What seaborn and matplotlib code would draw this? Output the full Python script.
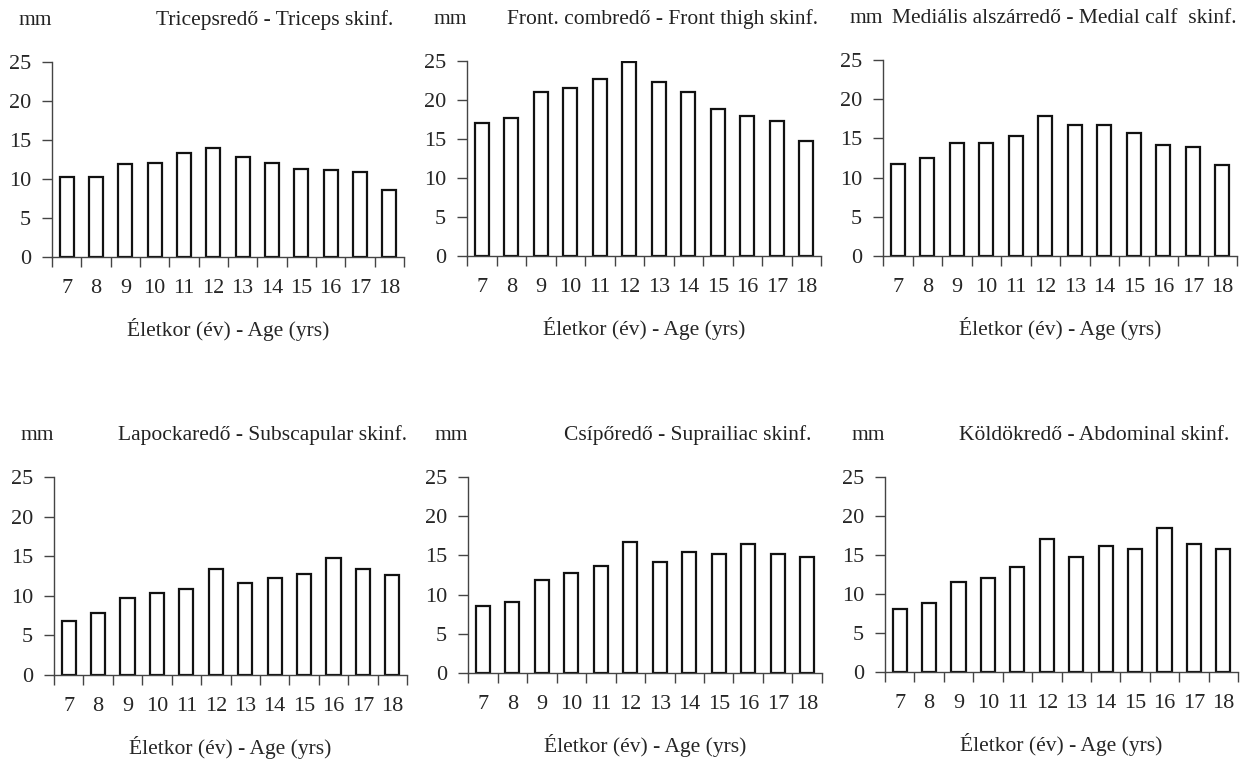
import matplotlib
matplotlib.use("Agg")
import matplotlib.pyplot as plt
import numpy as np
import pandas as pd
import seaborn as sns

ages = [7, 8, 9, 10, 11, 12, 13, 14, 15, 16, 17, 18]

triceps = [10.3, 10.3, 11.9, 12.1, 13.3, 14.0, 12.8, 12.0, 11.3, 11.1, 10.9, 8.6]
front_thigh = [17.0, 17.7, 21.0, 21.5, 22.7, 24.9, 22.3, 21.0, 18.9, 18.0, 17.3, 14.8]
medial_calf = [11.7, 12.5, 14.4, 14.4, 15.3, 17.8, 16.7, 16.7, 15.7, 14.1, 13.9, 11.6]
subscapular = [6.8, 7.8, 9.7, 10.4, 10.9, 13.4, 11.6, 12.3, 12.8, 14.8, 13.4, 12.6]
suprailiac = [8.5, 9.1, 11.8, 12.7, 13.6, 16.7, 14.2, 15.4, 15.2, 16.5, 15.2, 14.8]
abdominal = [8.1, 8.9, 11.6, 12.1, 13.4, 17.0, 14.8, 16.2, 15.8, 18.5, 16.4, 15.8]

titles = [
    "Tricepsredő - Triceps skinf.",
    "Front. combredő - Front thigh skinf.",
    "Mediális alszárredő - Medial calf  skinf.",
    "Lapockaredő - Subscapular skinf.",
    "Csípőredő - Suprailiac skinf.",
    "Köldökredő - Abdominal skinf.",
]
series = [triceps, front_thigh, medial_calf, subscapular, suprailiac, abdominal]

xlabel = "Életkor (év) - Age (yrs)"
ylabel = "mm"

sns.set_style("ticks")
plt.rcParams["font.family"] = ["Liberation Serif", "DejaVu Serif"]
plt.rcParams["text.color"] = "#222222"

W, H = 1245, 763
fig = plt.figure(figsize=(W / 100, H / 100), dpi=100)

# axes boxes in pixels: left, top(value 25), right, bottom(value 0)
boxes = [
    (52, 62, 404, 257),
    (467, 61, 821, 256),
    (883, 60, 1237, 256),
    (54, 477, 407, 675),
    (468, 477, 822, 673),
    (885, 477, 1238, 672),
]
title_shift = [-8, -2, 0, 0, -8, -6]

for (l, t, r, b), title, vals, dx in zip(boxes, titles, series, title_shift):
    ax = fig.add_axes([l / W, (H - b) / H, (r - l) / W, (b - t) / H])
    df = pd.DataFrame({"age": [str(a) for a in ages], "value": vals})
    sns.barplot(data=df, x="age", y="value", ax=ax, color="white",
                saturation=1, edgecolor="#111111", linewidth=1.6, width=0.48)
    ax.set_ylim(0, 25)
    ax.set_xlim(-0.5, len(ages) - 0.5)
    ax.set_yticks([0, 5, 10, 15, 20, 25])
    # boundary ticks on x, labels at the centres
    ax.set_xticks(np.arange(-0.5, len(ages), 1.0))
    ax.set_xticklabels([])
    ax.set_xticks(np.arange(len(ages)), minor=True)
    ax.set_xticklabels([str(a) for a in ages], minor=True)
    ax.tick_params(axis="x", which="major", length=7, width=1, color="#444444")
    ax.tick_params(axis="x", which="minor", length=0, pad=16, labelsize=16)
    ax.tick_params(axis="y", length=7, width=1, color="#444444", pad=8, labelsize=16)
    sns.despine(ax=ax)
    for s in ["left", "bottom"]:
        ax.spines[s].set_color("#444444")
        ax.spines[s].set_linewidth(1)
    ax.set_xlabel(xlabel, fontsize=15.5, labelpad=14)
    ax.set_ylabel("")
    ax.annotate(title, xy=(1, 1), xycoords="axes fraction", xytext=(dx, 30),
                textcoords="offset points", ha="right", va="center", fontsize=15.5)
    ax.annotate(ylabel, xy=(0, 1), xycoords="axes fraction", xytext=(0, 30),
                textcoords="offset points", ha="right", va="center", fontsize=15.5)

fig.savefig("out.png", dpi=100)
